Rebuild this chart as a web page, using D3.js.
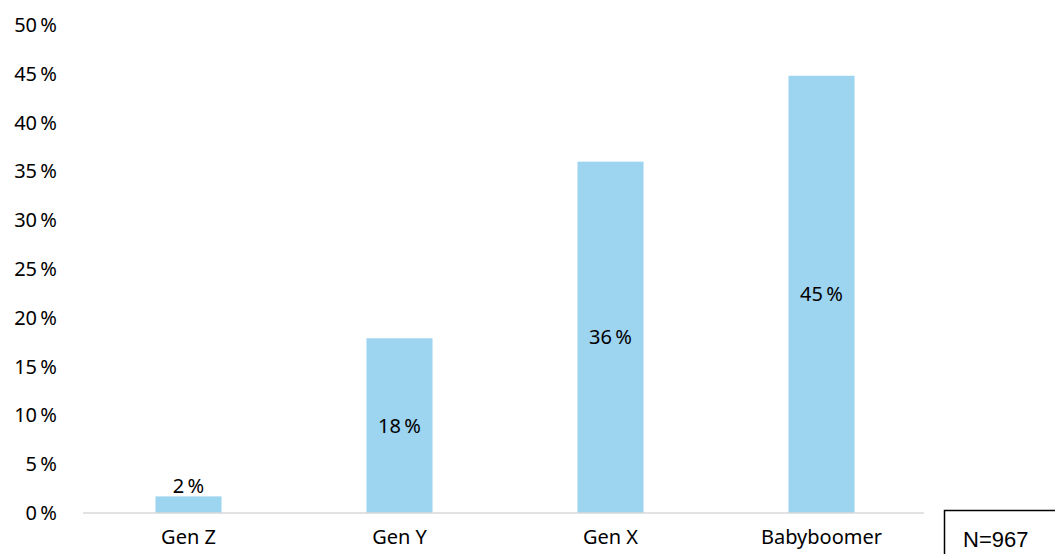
<!DOCTYPE html>
<html>
<head>
<meta charset="utf-8">
<script src="https://cdn.jsdelivr.net/npm/d3@7"></script>
<style>
  body { margin: 0; background: #fff; }
  text { font-family: "Noto Sans", sans-serif; fill: #000; }
</style>
</head>
<body>
<script>
let w = 1055,
  h = 554;

const categories = ["Gen Z", "Gen Y", "Gen X", "Babyboomer"];
const values = [1.7, 17.9, 36, 44.8];
const valueLabels = ["2", "18", "36", "45"];
const yTicks = [0, 5, 10, 15, 20, 25, 30, 35, 40, 45, 50];
const note = "N=967";

const fs = "20px";

const svg = d3.select("body")
  .append("svg")
  .attr("width", w)
  .attr("height", h);

let xScale = d3.scaleBand()
  .domain(categories)
  .range([83, 927])
  .paddingInner(0.687)
  .paddingOuter(0.3435);

let yScale = d3.scaleLinear()
  .domain([0, 50])
  .range([513, 25]);

// bars
svg.selectAll("rect.bar")
  .data(values)
  .enter()
  .append("rect")
  .attr("class", "bar")
  .attr("x", (d, i) => xScale(categories[i]))
  .attr("y", d => yScale(d))
  .attr("width", xScale.bandwidth())
  .attr("height", d => yScale(0) - yScale(d))
  .attr("fill", "#9dd4f0");

// baseline
svg.append("line")
  .attr("x1", 83).attr("x2", 924)
  .attr("y1", yScale(0)).attr("y2", yScale(0))
  .attr("stroke", "#d9d9d9")
  .attr("stroke-width", 1.5);

// y axis labels
const yAxis = d3.axisLeft(yScale)
  .tickValues(yTicks)
  .tickSize(0)
  .tickPadding(0)
  .tickFormat(d => d + "\u2009%");

svg.append("g")
  .attr("transform", "translate(57,0)")
  .call(yAxis)
  .call(g => g.select(".domain").remove())
  .selectAll("text")
  .style("font-family", "Noto Sans")
  .style("font-size", fs)
  .attr("fill", "#000");

// x axis labels
const xAxis = d3.axisBottom(xScale).tickSize(0).tickPadding(0);
svg.append("g")
  .attr("transform", "translate(0,530)")
  .call(xAxis)
  .call(g => g.select(".domain").remove())
  .selectAll("text")
  .style("font-family", "Noto Sans")
  .style("font-size", fs)
  .attr("fill", "#000");

// value labels
svg.selectAll("text.val")
  .data(values)
  .enter()
  .append("text")
  .attr("class", "val")
  .attr("x", (d, i) => xScale(categories[i]) + xScale.bandwidth() / 2)
  .attr("y", d => d < 5 ? yScale(d) - 3 : (yScale(d) + yScale(0)) / 2 + 7)
  .attr("text-anchor", "middle")
  .style("font-size", fs)
  .text((d, i) => valueLabels[i] + "\u2009%");

// note box
svg.append("rect")
  .attr("x", 944.5).attr("y", 510.5)
  .attr("width", 120).attr("height", 60)
  .attr("fill", "#fff")
  .attr("stroke", "#000")
  .attr("stroke-width", 1.5);

svg.append("text")
  .attr("x", 963)
  .attr("y", 547)
  .style("font-family", "Liberation Sans")
  .style("font-size", "22px")
  .text(note);
</script>
</body>
</html>
